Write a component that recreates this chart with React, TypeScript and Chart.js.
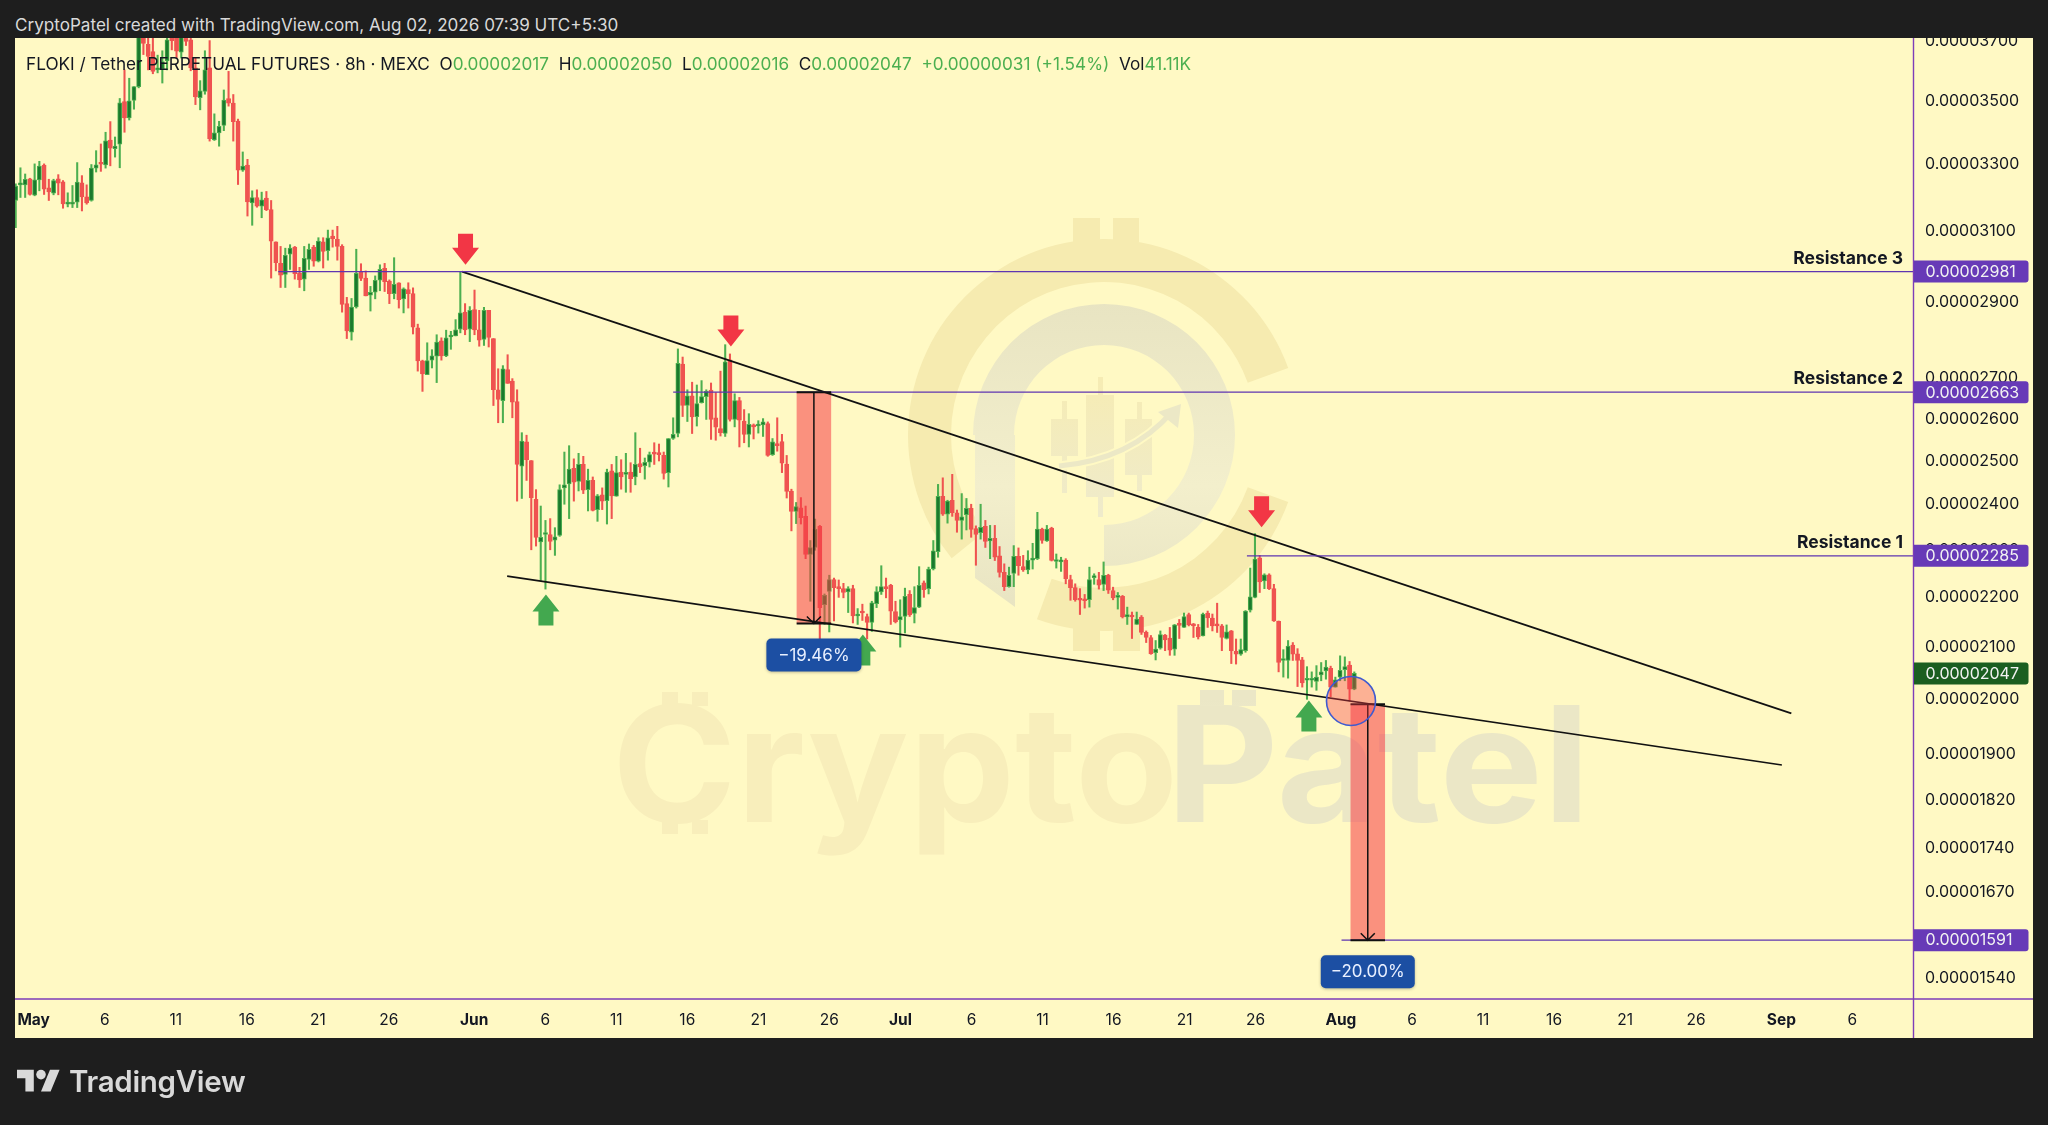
import React, { useEffect, useRef } from "react";
import { Chart, registerables } from "chart.js";

Chart.register(...registerables);

// Prices are in units of 0.00000001 USDT. Index 0 is the first 8h bar on the left edge.
const opens = [
  3186,3233,3233,3251,3202,3248,3293,3224,3208,3251,
  3242,3175,3175,3181,3239,3197,3186,3284,3298,3294,
  3371,3344,3358,3495,3442,3499,3544,3730,3687,3662,
  3600,3603,3630,3725,3730,3660,3712,3703,3607,3508,
  3528,3607,3372,3394,3418,3505,3490,3432,3278,3293,
  3179,3195,3169,3193,3159,3065,3004,2973,3030,3050,
  2977,2960,3015,3050,3010,3065,3040,3082,3072,3052,
  2893,2817,2884,2979,2963,2916,2924,2957,2990,2955,
  2920,2950,2906,2931,2920,2828,2742,2707,2744,2754,
  2794,2755,2804,2807,2825,2870,2825,2877,2823,2798,
  2875,2800,2669,2642,2720,2691,2640,2485,2542,2498,
  2409,2315,2331,2331,2319,2329,2435,2444,2480,2450,
  2489,2431,2452,2386,2419,2406,2474,2416,2471,2466,
  2471,2460,2491,2486,2494,2515,2514,2510,2470,2550,
  2562,2734,2630,2654,2603,2637,2652,2668,2600,2574,
  2562,2745,2596,2642,2592,2560,2582,2580,2583,2586,
  2512,2535,2543,2490,2428,2382,2390,2371,2288,2303,
  2349,2183,2210,2235,2218,2216,2209,2216,2160,2167,
  2159,2147,2185,2209,2218,2223,2169,2152,2159,2204,
  2165,2178,2228,2216,2257,2294,2416,2376,2407,2379,
  2362,2375,2389,2344,2335,2349,2317,2323,2285,2250,
  2220,2248,2284,2262,2255,2276,2279,2343,2317,2345,
  2273,2272,2276,2235,2218,2193,2193,2193,2239,2235,
  2225,2244,2212,2198,2200,2158,2159,2143,2158,2127,
  2117,2087,2096,2122,2116,2094,2143,2137,2163,2143,
  2137,2120,2166,2156,2143,2140,2115,2130,2090,2084,
  2091,2172,2198,2281,2232,2245,2216,2149,2072,2072,
  2102,2085,2073,2034,2034,2032,2044,2052,2057,2021,
  2040,2054,2063,2017,
];
const highs = [
  3236,3285,3266,3253,3297,3305,3297,3250,3250,3264,
  3246,3209,3231,3301,3261,3233,3295,3338,3359,3396,
  3430,3381,3505,3600,3572,3544,3760,3760,3720,3709,
  3650,3665,3730,3760,3760,3750,3730,3720,3640,3564,
  3665,3700,3455,3431,3533,3595,3518,3438,3334,3311,
  3215,3218,3211,3213,3186,3065,3052,3047,3057,3052,
  2993,3052,3059,3055,3077,3077,3099,3099,3110,3057,
  2910,2907,3044,3003,2983,2940,2969,3000,3004,2958,
  3020,2950,2936,2950,2936,2838,2744,2789,2771,2810,
  2802,2822,2819,2850,2981,2893,2885,2930,2875,2883,
  2875,2800,2722,2730,2758,2697,2669,2564,2558,2498,
  2431,2394,2362,2366,2346,2442,2518,2533,2502,2515,
  2508,2478,2460,2420,2435,2478,2489,2508,2500,2515,
  2493,2564,2527,2504,2518,2540,2537,2518,2550,2600,
  2773,2752,2669,2688,2681,2692,2669,2686,2662,2716,
  2784,2760,2659,2650,2620,2610,2585,2593,2598,2590,
  2550,2600,2560,2510,2432,2402,2413,2394,2318,2365,
  2351,2205,2244,2238,2234,2227,2220,2223,2175,2184,
  2164,2190,2220,2264,2238,2225,2190,2193,2217,2212,
  2220,2262,2232,2261,2318,2443,2458,2407,2466,2385,
  2422,2411,2398,2350,2398,2362,2351,2351,2305,2268,
  2261,2307,2302,2286,2296,2312,2380,2345,2351,2347,
  2289,2282,2279,2244,2226,2216,2204,2261,2247,2250,
  2272,2246,2219,2208,2202,2178,2168,2168,2161,2130,
  2121,2111,2130,2123,2137,2143,2153,2166,2166,2145,
  2143,2166,2170,2164,2186,2143,2142,2131,2114,2114,
  2171,2259,2333,2286,2247,2247,2225,2150,2093,2111,
  2107,2095,2078,2060,2050,2062,2068,2072,2061,2040,
  2081,2079,2070,2050,
];
const lows = [
  3106,3195,3195,3202,3200,3215,3204,3186,3203,3203,
  3163,3167,3165,3165,3155,3175,3184,3272,3274,3284,
  3291,3318,3285,3396,3435,3470,3540,3652,3600,3587,
  3590,3556,3600,3668,3640,3640,3683,3597,3485,3468,
  3519,3368,3370,3352,3401,3480,3368,3234,3274,3140,
  3113,3166,3135,3156,2963,2983,2937,2937,2987,2960,
  2937,2928,2987,2996,3008,2991,3013,3050,3013,2870,
  2800,2796,2881,2956,2914,2873,2906,2928,2926,2893,
  2906,2881,2868,2881,2812,2716,2665,2707,2724,2687,
  2744,2753,2772,2807,2815,2810,2792,2810,2780,2782,
  2778,2630,2588,2588,2685,2600,2405,2411,2452,2298,
  2306,2233,2215,2298,2286,2327,2398,2366,2405,2428,
  2422,2383,2383,2360,2386,2354,2366,2416,2432,2425,
  2425,2442,2470,2455,2483,2489,2497,2455,2437,2548,
  2554,2603,2591,2562,2580,2636,2596,2548,2546,2556,
  2555,2592,2578,2530,2540,2530,2549,2563,2555,2508,
  2510,2520,2470,2412,2339,2355,2354,2279,2190,2297,
  2111,2143,2128,2150,2198,2197,2167,2146,2143,2151,
  2114,2129,2177,2204,2197,2143,2146,2098,2126,2159,
  2146,2177,2198,2205,2255,2282,2373,2356,2371,2336,
  2321,2341,2325,2265,2321,2303,2279,2275,2240,2212,
  2219,2220,2244,2252,2247,2257,2277,2312,2316,2274,
  2259,2252,2226,2192,2190,2163,2176,2178,2225,2215,
  2212,2206,2193,2174,2156,2143,2115,2143,2123,2107,
  2084,2073,2094,2091,2082,2082,2115,2137,2140,2117,
  2114,2120,2137,2130,2127,2091,2114,2066,2065,2082,
  2088,2168,2197,2208,2216,2214,2149,2050,2040,2038,
  2072,2022,2021,1998,2021,2015,2033,2036,2003,2021,
  2033,2033,1995,2016,
];
const closes = [
  3229,3236,3250,3204,3248,3290,3220,3212,3246,3238,
  3176,3178,3181,3241,3197,3179,3284,3294,3296,3369,
  3346,3352,3491,3442,3497,3544,3720,3690,3646,3595,
  3607,3628,3703,3700,3664,3715,3697,3607,3510,3530,
  3600,3376,3394,3415,3500,3490,3430,3278,3290,3182,
  3195,3169,3188,3159,3067,3006,2971,3027,3047,2975,
  2958,3018,3044,3010,3067,3038,3077,3074,3052,2891,
  2820,2884,2976,2962,2914,2924,2957,2987,2953,2920,
  2946,2904,2933,2920,2830,2742,2709,2743,2755,2791,
  2755,2802,2809,2823,2868,2823,2875,2823,2796,2875,
  2803,2669,2645,2722,2685,2638,2489,2544,2500,2413,
  2325,2325,2333,2316,2326,2431,2442,2478,2448,2489,
  2430,2452,2384,2417,2405,2471,2417,2470,2460,2470,
  2456,2489,2483,2494,2512,2513,2512,2468,2550,2560,
  2736,2630,2654,2602,2635,2652,2665,2596,2577,2564,
  2740,2596,2642,2594,2560,2584,2578,2584,2590,2510,
  2542,2533,2492,2427,2382,2393,2368,2288,2303,2343,
  2177,2202,2235,2218,2216,2208,2216,2160,2164,2166,
  2147,2187,2210,2220,2216,2170,2148,2159,2200,2162,
  2177,2223,2214,2257,2296,2416,2376,2405,2379,2362,
  2370,2389,2342,2331,2347,2316,2323,2282,2250,2220,
  2244,2284,2264,2255,2276,2278,2343,2318,2343,2275,
  2275,2274,2237,2218,2193,2192,2191,2235,2242,2223,
  2244,2213,2197,2200,2158,2163,2158,2154,2127,2117,
  2085,2094,2123,2112,2092,2142,2141,2159,2142,2140,
  2118,2164,2156,2140,2140,2117,2128,2091,2084,2093,
  2170,2199,2278,2230,2245,2216,2150,2068,2074,2100,
  2084,2072,2029,2035,2035,2040,2050,2059,2021,2035,
  2053,2060,2017,2047,
];

const yTicks = [3700, 3500, 3300, 3100, 2900, 2700, 2600, 2500, 2400, 2300, 2200, 2100, 2000, 1900, 1820, 1740, 1670, 1540];
const xTickDays = [0, 5, 10, 15, 20, 25, 31, 36, 41, 46, 51, 56, 61, 66, 71, 76, 81, 86, 92, 97, 102, 107, 112, 117, 123, 128];
const xTickLabels = ["May", "6", "11", "16", "21", "26", "Jun", "6", "11", "16", "21", "26", "Jul", "6", "11", "16", "21", "26", "Aug", "6", "11", "16", "21", "26", "Sep", "6"];
const monthNames = ["May", "Jun", "Jul", "Aug", "Sep"];
const mayFirstBar = 3.8;
const barsPerDay = 3.004;

// Drawn height of each level and the price its tag shows.
const levelPrices = [2981, 2663, 2285, 1595];
const levelTags = ["0.00002981", "0.00002663", "0.00002285", "0.00001591"];
const levelStartBars = [55.5, 139, 260.3, 280.3];
const levelNames = ["Resistance 3", "Resistance 2", "Resistance 1", ""];

const upperTrendBars = [94.35, 375.4];
const upperTrendPrices = [2981, 1972];
const lowerTrendBars = [103.9, 373.4];
const lowerTrendPrices = [2242, 1879];

const boxStartBars = [165.1, 282.2];
const boxEndBars = [172.4, 289.5];
const boxTopPrices = [2663, 1989];
const boxBottomPrices = [2145, 1595];
const boxLabels = ["\u221219.46%", "\u221220.00%"];

const redArrowBars = [95.1, 151.2, 263.4];
const redArrowPrices = [3000, 2779, 2347];
const greenArrowBars = [112.1, 179.1, 273.4];
const greenArrowPrices = [2204, 2123, 1996];

const circleBar = 282.3;
const circlePrice = 1995;
const lastPrice = 2047;
const lastPriceTag = "0.00002047";

const GREEN = "#4caf50";
const GREEN_BODY = "#1b7a2d";
const RED = "#ef5350";
const PURPLE = "#673ab7";
const AXIS_LINE = "#7e3db8";
const CREAM = "#fff9c4";
const DARK = "#1e1e1e";
const FONT = "Inter, 'Noto Sans', sans-serif";
const fmt = (v: number) => (v / 1e8).toFixed(8);

function ring(ctx: any, cx: number, cy: number, R: number, r: number, a0: number, a1: number, ccw: boolean) {
  ctx.beginPath();
  ctx.arc(cx, cy, R, a0, a1, ccw);
  ctx.arc(cx, cy, r, a1, a0, !ccw);
  ctx.closePath();
  ctx.fill();
}

function stretchedText(ctx: any, text: string, x: number, y: number, sx: number) {
  ctx.save();
  ctx.translate(x, y);
  ctx.scale(sx, 1);
  ctx.fillText(text, 0, 0);
  ctx.restore();
}

function drawWatermark(ctx: any) {
  const yellow = "#f6ebb0";
  const gray = "#e8e4c2";
  const cx = 1104;
  const cy = 435;
  const d = Math.PI / 180;
  ctx.save();
  // outer coin ring and its stubs
  ctx.fillStyle = yellow;
  ring(ctx, cx, cy, 196, 153, -20 * d, 141 * d, true);
  ring(ctx, cx, cy, 196, 153, 20 * d, 110 * d, false);
  ctx.fillRect(1073, 218, 27, 24);
  ctx.fillRect(1113, 218, 26, 24);
  ctx.fillRect(1073, 627, 27, 24);
  ctx.fillRect(1113, 627, 27, 24);
  // inner P shape
  const g = ctx.createLinearGradient(0, 300, 0, 610);
  g.addColorStop(0, gray);
  g.addColorStop(0.6, "#f3efcc");
  g.addColorStop(1, gray);
  ctx.fillStyle = g;
  ring(ctx, cx, cy, 131, 90, Math.PI, Math.PI / 2, false);
  ctx.beginPath();
  ctx.moveTo(975, 435);
  ctx.lineTo(1015, 435);
  ctx.lineTo(1015, 607);
  ctx.lineTo(975, 578);
  ctx.closePath();
  ctx.fill();
  // watermark candles
  const cg = ctx.createLinearGradient(0, 380, 0, 515);
  cg.addColorStop(0, "#f6ecb4");
  cg.addColorStop(1, "#efebcb");
  ctx.fillStyle = cg;
  ctx.fillRect(1051, 419, 27, 37);
  ctx.fillRect(1062, 401, 5, 92);
  ctx.fillRect(1086, 395, 28, 102);
  ctx.fillRect(1098, 377, 5, 140);
  ctx.fillRect(1125, 419, 27, 56);
  ctx.fillRect(1137, 402, 5, 89);
  // swoosh
  ctx.strokeStyle = CREAM;
  ctx.lineWidth = 9;
  ctx.beginPath();
  ctx.moveTo(1059, 466);
  ctx.quadraticCurveTo(1130, 460, 1172, 412);
  ctx.stroke();
  ctx.strokeStyle = "#ece8c6";
  ctx.lineWidth = 5;
  ctx.beginPath();
  ctx.moveTo(1059, 466);
  ctx.quadraticCurveTo(1130, 460, 1172, 412);
  ctx.stroke();
  ctx.fillStyle = "#ece8c6";
  ctx.beginPath();
  ctx.moveTo(1181, 404);
  ctx.lineTo(1178, 428);
  ctx.lineTo(1158, 412);
  ctx.closePath();
  ctx.fill();
  // big wordmark
  ctx.font = "700 161px Inter, sans-serif";
  ctx.textBaseline = "alphabetic";
  ctx.textAlign = "left";
  ctx.fillStyle = "#f8eebb";
  stretchedText(ctx, "Crypto", 612, 822, 1.045);
  ctx.fillRect(662, 692, 16, 14);
  ctx.fillRect(692, 692, 16, 14);
  ctx.fillRect(662, 820, 16, 14);
  ctx.fillRect(692, 820, 16, 14);
  const tg = ctx.createLinearGradient(0, 700, 0, 830);
  tg.addColorStop(0, "#ebe7c6");
  tg.addColorStop(0.55, "#f5f1d0");
  tg.addColorStop(1, "#eae6c5");
  ctx.fillStyle = tg;
  stretchedText(ctx, "Patel", 1166, 822, 1.08);
  ctx.fillRect(1200, 690, 24, 16);
  ctx.fillRect(1232, 690, 24, 16);
  ctx.restore();
}

function roundBox(ctx: any, x: number, y: number, w: number, h: number, r: any) {
  ctx.beginPath();
  ctx.roundRect(x, y, w, h, r);
  ctx.fill();
}

function arrow(ctx: any, x: number, tipY: number, dir: number, color: string) {
  // dir = 1: points down, tip at tipY; dir = -1: points up
  const H = 31;
  const head = 17;
  const hw = 13.5;
  const sw = 7.5;
  ctx.fillStyle = color;
  ctx.beginPath();
  ctx.moveTo(x, tipY);
  ctx.lineTo(x + hw, tipY - dir * head);
  ctx.lineTo(x + sw, tipY - dir * head);
  ctx.lineTo(x + sw, tipY - dir * H);
  ctx.lineTo(x - sw, tipY - dir * H);
  ctx.lineTo(x - sw, tipY - dir * head);
  ctx.lineTo(x - hw, tipY - dir * head);
  ctx.closePath();
  ctx.fill();
}

const overlay = {
  id: "overlay",
  beforeDraw(chart: any) {
    const { ctx } = chart;
    ctx.save();
    ctx.fillStyle = DARK;
    ctx.fillRect(0, 0, 2048, 1125);
    ctx.fillStyle = CREAM;
    ctx.fillRect(15, 38, 2018, 1000);
    ctx.restore();
  },
  beforeDatasetsDraw(chart: any) {
    drawWatermark(chart.ctx);
  },
  afterDatasetDraw(chart: any, args: any) {
    if (args.index !== 1) return;
    const { ctx } = chart;
    const xS = chart.scales.x;
    const yS = chart.scales.y;
    ctx.save();
    boxStartBars.forEach((b, i) => {
      const x0 = xS.getPixelForValue(b);
      const x1 = xS.getPixelForValue(boxEndBars[i]);
      const y0 = yS.getPixelForValue(boxTopPrices[i]);
      const y1 = yS.getPixelForValue(boxBottomPrices[i]);
      ctx.fillStyle = "rgba(245,60,70,0.55)";
      ctx.fillRect(x0, y0, x1 - x0, y1 - y0);
    });
    ctx.restore();
  },
  afterDatasetsDraw(chart: any) {
    const { ctx } = chart;
    const xS = chart.scales.x;
    const yS = chart.scales.y;
    ctx.save();
    // measure tools: edges and centre arrow
    boxStartBars.forEach((b, i) => {
      const x0 = xS.getPixelForValue(b);
      const x1 = xS.getPixelForValue(boxEndBars[i]);
      const y0 = yS.getPixelForValue(boxTopPrices[i]);
      const y1 = yS.getPixelForValue(boxBottomPrices[i]);
      const xc = (x0 + x1) / 2;
      ctx.strokeStyle = "#111";
      ctx.lineWidth = 2;
      ctx.beginPath();
      ctx.moveTo(x0, y0);
      ctx.lineTo(x1, y0);
      ctx.moveTo(x0, y1);
      ctx.lineTo(x1, y1);
      ctx.stroke();
      ctx.lineWidth = 1.5;
      ctx.beginPath();
      ctx.moveTo(xc, y0);
      ctx.lineTo(xc, y1);
      ctx.moveTo(xc - 7, y1 - 7);
      ctx.lineTo(xc, y1);
      ctx.lineTo(xc + 7, y1 - 7);
      ctx.stroke();
    });
    // circle
    const cxp = xS.getPixelForValue(circleBar);
    const cyp = yS.getPixelForValue(circlePrice);
    ctx.beginPath();
    ctx.arc(cxp, cyp, 24.5, 0, Math.PI * 2);
    ctx.fillStyle = "rgba(246,60,70,0.38)";
    ctx.fill();
    ctx.strokeStyle = "#3f5bd0";
    ctx.lineWidth = 1.6;
    ctx.stroke();
    // signal arrows
    redArrowBars.forEach((b, i) => arrow(ctx, xS.getPixelForValue(b), yS.getPixelForValue(redArrowPrices[i]), 1, "#f23645"));
    greenArrowBars.forEach((b, i) => arrow(ctx, xS.getPixelForValue(b), yS.getPixelForValue(greenArrowPrices[i]), -1, "#43a84f"));
    // measure labels
    ctx.font = "400 17px " + FONT;
    ctx.textAlign = "center";
    ctx.textBaseline = "middle";
    boxLabels.forEach((t, i) => {
      const xc = (xS.getPixelForValue(boxStartBars[i]) + xS.getPixelForValue(boxEndBars[i])) / 2;
      const top = yS.getPixelForValue(boxBottomPrices[i]) + (i === 0 ? 15 : 15);
      const w = i === 0 ? 95 : 94;
      ctx.save();
      ctx.shadowColor = "rgba(0,0,0,0.25)";
      ctx.shadowBlur = 3;
      ctx.shadowOffsetY = 1;
      ctx.fillStyle = "#1c4fa3";
      roundBox(ctx, xc - w / 2, top, w, 33, 5);
      ctx.restore();
      ctx.fillStyle = "#e9f0ff";
      ctx.fillText(t, xc, top + 17);
    });
    // resistance names
    ctx.font = "700 17.5px " + FONT;
    ctx.textAlign = "right";
    ctx.textBaseline = "alphabetic";
    ctx.fillStyle = "#131722";
    levelNames.forEach((n, i) => {
      if (n) ctx.fillText(n, 1903, yS.getPixelForValue(levelPrices[i]) - 8);
    });
    ctx.restore();
  },
  afterDraw(chart: any) {
    const { ctx } = chart;
    const yS = chart.scales.y;
    ctx.save();
    ctx.strokeStyle = AXIS_LINE;
    ctx.lineWidth = 1.4;
    ctx.beginPath();
    ctx.moveTo(1913.5, 38);
    ctx.lineTo(1913.5, 1038);
    ctx.moveTo(15, 999);
    ctx.lineTo(2033, 999);
    ctx.stroke();
    ctx.font = "400 16px " + FONT;
    ctx.textAlign = "left";
    ctx.textBaseline = "middle";
    const tagPrices = [...levelPrices, lastPrice];
    const tagTexts = [...levelTags, lastPriceTag];
    tagPrices.forEach((p, i) => {
      const y = yS.getPixelForValue(p);
      ctx.fillStyle = p === lastPrice ? "#1b5e20" : PURPLE;
      roundBox(ctx, 1914, y - 11, 114.5, 22, [0, 3, 3, 0]);
      ctx.fillStyle = "#f2f2f2";
      ctx.fillText(tagTexts[i], 1925.5, y + 0.5);
    });
    ctx.restore();
  },
};

export default function App() {
  const ref = useRef<HTMLCanvasElement | null>(null);
  useEffect(() => {
    document.body.style.margin = "0";
    document.body.style.background = DARK;
    const bars = closes.map((_, i) => i);
    const up = closes.map((c, i) => c >= opens[i]);
    const lineDs = (xs: number[], ys: number[], color: string, width: number) => ({
      type: "line",
      data: xs.map((x, i) => ({ x, y: ys[i] })),
      borderColor: color,
      borderWidth: width,
      pointRadius: 0,
      fill: false,
      tension: 0,
      order: 1,
    });
    const chart = new Chart(ref.current as any, {
      type: "bar",
      data: {
        datasets: [
          {
            type: "bar",
            data: bars.map((i) => ({ x: i, y: [lows[i], highs[i]] })),
            backgroundColor: up.map((u) => (u ? GREEN : RED)),
            barThickness: 1.4,
            grouped: false,
            order: 3,
          },
          {
            type: "bar",
            data: bars.map((i) => ({ x: i, y: [Math.min(opens[i], closes[i]), Math.max(opens[i], closes[i])] })),
            backgroundColor: up.map((u) => (u ? GREEN_BODY : RED)),
            borderColor: up.map((u) => (u ? GREEN : RED)),
            borderWidth: 1,
            borderSkipped: false,
            barThickness: 4.2,
            minBarLength: 2,
            grouped: false,
            order: 2,
          },
          ...levelPrices.map((p, i) => lineDs([levelStartBars[i], 402], [p, p], "#5e35b1", 1.3)),
          lineDs(upperTrendBars, upperTrendPrices, "#111111", 1.7),
          lineDs(lowerTrendBars, lowerTrendPrices, "#111111", 1.7),
        ] as any,
      },
      plugins: [overlay as any],
      options: {
        responsive: false,
        animation: false,
        devicePixelRatio: 1,
        events: [],
        layout: { padding: { left: 15, right: 15, top: 38, bottom: 87 } },
        plugins: { legend: { display: false }, tooltip: { enabled: false }, title: { display: false } },
        scales: {
          x: {
            type: "linear",
            offset: false,
            min: -0.15,
            max: 401.12,
            grid: { display: false, drawTicks: false },
            border: { display: false },
            afterFit: (s: any) => {
              s.height = 39;
            },
            afterBuildTicks: (s: any) => {
              s.ticks = xTickDays.map((d) => ({ value: mayFirstBar + d * barsPerDay }));
            },
            ticks: {
              autoSkip: false,
              maxRotation: 0,
              padding: 12,
              color: "#131722",
              font: (c: any) => ({
                family: FONT,
                size: 15.5,
                weight: monthNames.includes(xTickLabels[c.index]) ? "700" : "400",
              }),
              callback: (_v: any, i: number) => xTickLabels[i],
            },
          },
          y: {
            type: "logarithmic",
            position: "right",
            min: 1509.6,
            max: 3709,
            grid: { display: false, drawTicks: false },
            border: { display: false },
            afterFit: (s: any) => {
              s.width = 120;
            },
            afterBuildTicks: (s: any) => {
              s.ticks = yTicks.map((v) => ({ value: v }));
            },
            ticks: {
              autoSkip: false,
              padding: 12,
              labelOffset: 1,
              color: "#131722",
              font: { family: FONT, size: 16 },
              callback: (v: any) => fmt(Number(v)),
            },
          },
        },
      } as any,
    });
    return () => chart.destroy();
  }, []);

  return (
    <div style={{ position: "relative", width: 2048, height: 1125, overflow: "hidden", background: DARK, fontFamily: FONT }}>
      <canvas ref={ref} width={2048} height={1125} style={{ display: "block", width: 2048, height: 1125 }} />
      <div style={{ position: "absolute", left: 0, top: 0, width: 2048, height: 38, background: DARK, color: "#d9d9d9", fontSize: 17.1, lineHeight: "50px", paddingLeft: 15, boxSizing: "border-box", whiteSpace: "pre", overflow: "hidden" }}>
        CryptoPatel created with TradingView.com, Aug 02, 2026 07:39 UTC+5:30
      </div>
      <div style={{ position: "absolute", left: 26, top: 52, fontSize: 17.2, lineHeight: "24px", color: "#131722", whiteSpace: "pre" }}>
        {"FLOKI / Tether PERPETUAL FUTURES · 8h · MEXC  O"}
        <span style={{ color: GREEN }}>0.00002017</span>
        {"  H"}
        <span style={{ color: GREEN }}>0.00002050</span>
        {"  L"}
        <span style={{ color: GREEN }}>0.00002016</span>
        {"  C"}
        <span style={{ color: GREEN }}>0.00002047</span>
        <span style={{ color: GREEN }}>{"  +0.00000031 (+1.54%)"}</span>
        {"  Vol"}
        <span style={{ color: GREEN }}>41.11K</span>
      </div>
      <svg style={{ position: "absolute", left: 17, top: 1065 }} width="43.2" height="33.6" viewBox="0 0 36 28">
        <path fill="#d9d9d9" d="M14 22H7V11H0V4h14v18zM28 22h-8l7.5-18h8L28 22z" />
        <circle fill="#d9d9d9" cx="20" cy="8" r="4" />
      </svg>
      <div style={{ position: "absolute", left: 69, top: 1062, color: "#d9d9d9", fontSize: 29.5, fontWeight: 600, lineHeight: "38px", letterSpacing: "-0.3px" }}>TradingView</div>
    </div>
  );
}
